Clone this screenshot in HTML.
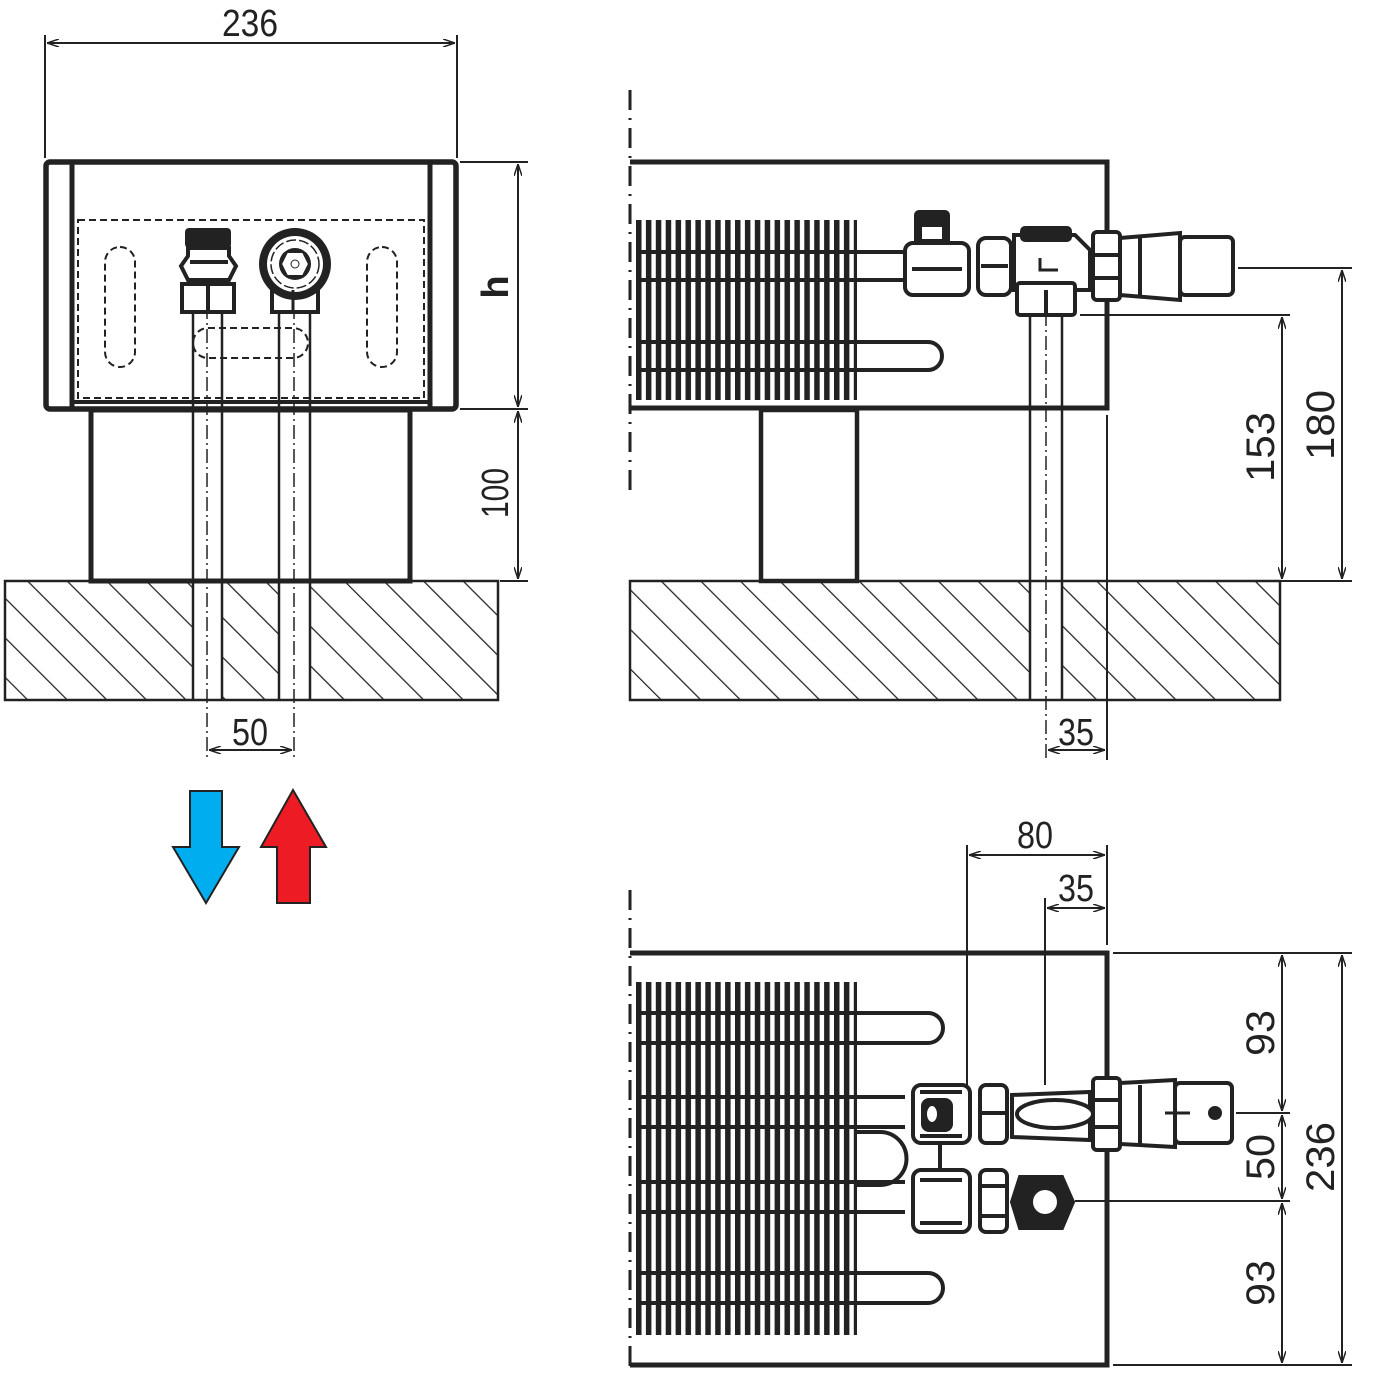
<!DOCTYPE html>
<html><head><meta charset="utf-8"><style>html,body{margin:0;padding:0;background:#fff}svg{display:block}</style></head>
<body>
<svg width="1387" height="1378" viewBox="0 0 1387 1378" xmlns="http://www.w3.org/2000/svg" font-family="'Liberation Sans Narrow','Liberation Sans',sans-serif" fill="none" stroke="#222">
<defs>
<pattern id="hatch" patternUnits="userSpaceOnUse" width="28" height="28" patternTransform="rotate(-45)">
<line x1="0" y1="0" x2="0" y2="28" stroke="#222" stroke-width="2.5"/>
</pattern>
<pattern id="fins" patternUnits="userSpaceOnUse" x="636" y="0" width="9.9" height="20">
<rect x="0" y="0" width="5.5" height="20" fill="#222" stroke="none"/>
</pattern>
<marker id="ar" viewBox="0 0 12 8" refX="12" refY="4" markerWidth="12" markerHeight="8" orient="auto-start-reverse" markerUnits="userSpaceOnUse">
<path d="M0,0 L12,4 L0,8" fill="none" stroke="#222" stroke-width="1.5"/>
</marker>
</defs>

<!-- ========== LEFT VIEW ========== -->
<g stroke-width="2">
<line x1="45" y1="35" x2="45" y2="158"/>
<line x1="457" y1="35" x2="457" y2="158"/>
<line x1="47" y1="43" x2="455" y2="43" marker-start="url(#ar)" marker-end="url(#ar)"/>
</g>
<text x="250" y="36" font-size="38" fill="#222" stroke="none" text-anchor="middle" textLength="56" lengthAdjust="spacingAndGlyphs">236</text>

<rect x="5" y="581" width="493" height="119" fill="url(#hatch)" stroke="none"/>
<rect x="192" y="581" width="30" height="119" fill="#fff" stroke="none"/>
<rect x="278" y="581" width="32" height="119" fill="#fff" stroke="none"/>
<rect x="5" y="581" width="493" height="119" stroke-width="2.5"/>

<rect x="91" y="410" width="319" height="171" stroke-width="5" fill="#fff"/>

<rect x="46" y="162" width="410" height="247" rx="4" stroke-width="5.5" fill="#fff"/>
<line x1="72" y1="162" x2="72" y2="409" stroke-width="5"/>
<line x1="430" y1="162" x2="430" y2="409" stroke-width="5"/>
<line x1="72" y1="402" x2="430" y2="402" stroke-width="4"/>
<rect x="78" y="220" width="346" height="178" stroke-width="2" stroke-dasharray="7,4"/>
<rect x="105" y="247" width="30" height="120" rx="15" stroke-width="2" stroke-dasharray="7,4"/>
<rect x="367" y="247" width="30" height="120" rx="15" stroke-width="2" stroke-dasharray="7,4"/>
<rect x="193" y="328" width="115" height="30" rx="15" stroke-width="2" stroke-dasharray="7,4"/>

<g stroke-width="2.5">
<line x1="193" y1="305" x2="193" y2="700"/><line x1="222" y1="305" x2="222" y2="700"/>
<line x1="279" y1="305" x2="279" y2="700"/><line x1="310" y1="305" x2="310" y2="700"/>
</g>
<g stroke-width="1.5" stroke-dasharray="14,4,2,4">
<line x1="207" y1="305" x2="207" y2="760"/>
<line x1="294" y1="305" x2="294" y2="760"/>
</g>
<rect x="185" y="228" width="46" height="20" rx="4" fill="#222" stroke="none"/>
<path d="M188,248 L229,248 L229,256 L236,266 L229,280 L188,280 L181,266 L188,256 Z" fill="#fff" stroke-width="4"/>
<line x1="190" y1="262" x2="228" y2="262" stroke-width="4"/>
<rect x="182" y="284" width="52" height="28" fill="#fff" stroke-width="4"/>
<line x1="208" y1="284" x2="208" y2="312" stroke-width="4"/>
<rect x="272" y="290" width="46" height="22" fill="#fff" stroke-width="4"/>
<circle cx="295" cy="264" r="36" fill="#222" stroke="none"/>
<circle cx="295" cy="264" r="28" fill="#fff" stroke="none"/>
<circle cx="295" cy="264" r="24" stroke-width="1.5" stroke-dasharray="10,3"/>
<circle cx="295" cy="264" r="16" fill="#222" stroke="none"/>
<path d="M287,252 L303,252 L309,264 L303,276 L287,276 L281,264 Z" fill="#fff" stroke="#222" stroke-width="2"/>
<circle cx="295" cy="264" r="4" stroke-width="1"/>
<line x1="293" y1="290" x2="293" y2="312" stroke-width="3"/>

<g stroke-width="2">
<line x1="460" y1="162" x2="528" y2="162"/>
<line x1="460" y1="409" x2="528" y2="409"/>
<line x1="500" y1="581" x2="528" y2="581"/>
<line x1="518" y1="164" x2="518" y2="407" marker-start="url(#ar)" marker-end="url(#ar)"/>
<line x1="518" y1="411" x2="518" y2="579" marker-start="url(#ar)" marker-end="url(#ar)"/>
</g>
<text transform="translate(508,287) rotate(-90)" font-size="38" font-weight="bold" fill="#222" stroke="none" text-anchor="middle" font-family="'Liberation Sans',sans-serif">h</text>
<text transform="translate(508,493) rotate(-90)" font-size="38" fill="#222" stroke="none" text-anchor="middle" textLength="50" lengthAdjust="spacingAndGlyphs">100</text>

<line x1="209" y1="750" x2="292" y2="750" stroke-width="2" marker-start="url(#ar)" marker-end="url(#ar)"/>
<text x="250" y="745" font-size="38" fill="#222" stroke="none" text-anchor="middle" textLength="36" lengthAdjust="spacingAndGlyphs">50</text>

<path d="M190,791 L222,791 L222,847 L239,847 L206,903 L173,847 L190,847 Z" fill="#00aeef" stroke="#222" stroke-width="2"/>
<path d="M293,790 L326,847 L310,847 L310,903 L277,903 L277,847 L261,847 Z" fill="#ed1c24" stroke="#222" stroke-width="2"/>

<!-- ========== TOP-RIGHT VIEW ========== -->
<line x1="630" y1="90" x2="630" y2="492" stroke-width="3" stroke-dasharray="20,8,2,8"/>
<rect x="630" y="581" width="650" height="119" fill="url(#hatch)" stroke="none"/>
<rect x="1030" y="581" width="32" height="119" fill="#fff" stroke="none"/>
<rect x="630" y="581" width="650" height="119" stroke-width="2.5"/>
<rect x="761" y="410" width="96" height="171" stroke-width="4.5" fill="#fff"/>
<path d="M630,162 L1107,162 L1107,408 L630,408" stroke-width="5"/>
<line x1="1107" y1="415" x2="1107" y2="760" stroke-width="2"/>
<rect x="636" y="220" width="221" height="180" fill="url(#fins)" stroke="none"/>
<g stroke-width="4">
<line x1="636" y1="252" x2="857" y2="252"/><line x1="636" y1="280" x2="857" y2="280"/>
<line x1="636" y1="342" x2="857" y2="342"/><line x1="636" y1="370" x2="857" y2="370"/>
</g>
<path d="M857,252 L905,252 M857,280 L905,280" stroke-width="4"/>
<path d="M857,342 L928,342 A14,14 0 0 1 928,370 L857,370" stroke-width="4"/>
<g stroke-width="2.5"><line x1="1030" y1="312" x2="1030" y2="700"/><line x1="1062" y1="312" x2="1062" y2="700"/></g>
<line x1="1046" y1="312" x2="1046" y2="760" stroke-width="1.5" stroke-dasharray="14,4,2,4"/>
<g stroke-width="4" fill="#fff">
<rect x="916" y="212" width="32" height="32" rx="3" fill="#222"/>
<rect x="921" y="226" width="22" height="14" fill="#fff" stroke-width="2"/>
<rect x="905" y="243" width="64" height="52" rx="8"/>
<line x1="912" y1="269" x2="962" y2="269"/>
<rect x="978" y="238" width="33" height="57" rx="8"/>
<line x1="981" y1="266" x2="1008" y2="266"/>
<path d="M1014,235 L1075,235 L1090,250 L1090,290 L1014,290 Z"/>
<rect x="1022" y="228" width="48" height="12" rx="3" fill="#222"/>
<rect x="1017" y="283" width="58" height="32" rx="3"/>
<line x1="1046" y1="290" x2="1046" y2="315"/>
<path d="M1040,258 L1040,270 L1058,270" stroke-width="3"/>
<rect x="1093" y="232" width="27" height="68" rx="4"/>
<line x1="1093" y1="255" x2="1120" y2="255"/><line x1="1093" y1="278" x2="1120" y2="278"/>
<path d="M1120,238 L1180,233 L1180,300 L1120,295 Z"/>
<line x1="1140" y1="238" x2="1140" y2="296"/>
<rect x="1180" y="237" width="53" height="58" rx="5"/>
</g>
<g stroke-width="2">
<line x1="1238" y1="268" x2="1352" y2="268"/>
<line x1="1080" y1="315" x2="1290" y2="315"/>
<line x1="1110" y1="581" x2="1352" y2="581"/>
<line x1="1282" y1="317" x2="1282" y2="579" marker-start="url(#ar)" marker-end="url(#ar)"/>
<line x1="1342" y1="270" x2="1342" y2="579" marker-start="url(#ar)" marker-end="url(#ar)"/>
<line x1="1048" y1="750" x2="1105" y2="750" marker-start="url(#ar)" marker-end="url(#ar)"/>
</g>
<text transform="translate(1274,447) rotate(-90)" font-size="40" fill="#222" stroke="none" text-anchor="middle" textLength="70" lengthAdjust="spacingAndGlyphs">153</text>
<text transform="translate(1334,425) rotate(-90)" font-size="40" fill="#222" stroke="none" text-anchor="middle" textLength="70" lengthAdjust="spacingAndGlyphs">180</text>
<text x="1076" y="745" font-size="38" fill="#222" stroke="none" text-anchor="middle" textLength="36" lengthAdjust="spacingAndGlyphs">35</text>

<!-- ========== BOTTOM VIEW ========== -->
<line x1="630" y1="890" x2="630" y2="1372" stroke-width="3" stroke-dasharray="20,8,2,8"/>
<path d="M630,953 L1107,953 L1107,1365 L630,1365" stroke-width="5"/>
<rect x="636" y="982" width="221" height="353" fill="url(#fins)" stroke="none"/>
<g stroke-width="4">
<line x1="636" y1="1013" x2="857" y2="1013"/><line x1="636" y1="1043" x2="857" y2="1043"/>
<line x1="636" y1="1097" x2="857" y2="1097"/><line x1="636" y1="1127" x2="857" y2="1127"/>
<line x1="636" y1="1182" x2="857" y2="1182"/><line x1="636" y1="1212" x2="857" y2="1212"/>
<line x1="636" y1="1273" x2="857" y2="1273"/><line x1="636" y1="1303" x2="857" y2="1303"/>
</g>
<path d="M857,1013 L928,1013 A15,15 0 0 1 928,1043 L857,1043" stroke-width="4"/>
<path d="M857,1273 L928,1273 A15,15 0 0 1 928,1303 L857,1303" stroke-width="4"/>
<path d="M857,1097 L905,1097 M857,1127 L905,1127 M857,1182 L905,1182 M857,1212 L905,1212" stroke-width="4"/>
<path d="M857,1132 L880,1132 A26,26 0 0 1 880,1185 L857,1185" stroke-width="4"/>
<line x1="940" y1="1143" x2="940" y2="1172" stroke-width="4"/>
<g stroke-width="4" fill="#fff">
<rect x="913" y="1085" width="57" height="58" rx="8"/>
<line x1="920" y1="1092" x2="962" y2="1092"/><line x1="920" y1="1136" x2="962" y2="1136"/>
<rect x="923" y="1100" width="28" height="30" rx="6" fill="#222"/>
<ellipse cx="932" cy="1114" rx="6" ry="9" fill="#fff" stroke-width="2"/>
<rect x="980" y="1085" width="27" height="58" rx="6"/>
<line x1="982" y1="1113" x2="1005" y2="1113"/>
<path d="M1012,1095 L1090,1092 L1090,1140 L1012,1137 Z"/>
<ellipse cx="1055" cy="1114" rx="38" ry="14"/>
<rect x="1093" y="1078" width="27" height="72" rx="4"/>
<line x1="1093" y1="1100" x2="1120" y2="1100"/><line x1="1093" y1="1127" x2="1120" y2="1127"/>
<path d="M1120,1083 L1175,1080 L1175,1147 L1120,1144 Z"/>
<rect x="1175" y="1083" width="57" height="60" rx="5"/>
<line x1="1140" y1="1085" x2="1140" y2="1144"/>
<line x1="1165" y1="1113" x2="1190" y2="1113" stroke-width="3"/>
<circle cx="1215" cy="1113" r="5" fill="#222"/>
<rect x="913" y="1170" width="57" height="62" rx="8"/>
<line x1="920" y1="1180" x2="962" y2="1180"/><line x1="920" y1="1223" x2="962" y2="1223"/>
<rect x="980" y="1170" width="27" height="62" rx="6"/>
<line x1="982" y1="1186" x2="1005" y2="1186"/><line x1="982" y1="1216" x2="1005" y2="1216"/>
<path d="M1020,1177 L1062,1177 L1073,1202 L1062,1228 L1020,1228 L1012,1202 Z" fill="#222"/>
<circle cx="1045" cy="1202" r="12" fill="#fff" stroke="none"/>
</g>
<g stroke-width="2">
<line x1="967" y1="845" x2="967" y2="1085"/>
<line x1="1045" y1="898" x2="1045" y2="1085"/>
<line x1="1107" y1="845" x2="1107" y2="945"/>
<line x1="969" y1="855" x2="1105" y2="855" marker-start="url(#ar)" marker-end="url(#ar)"/>
<line x1="1047" y1="908" x2="1105" y2="908" marker-start="url(#ar)" marker-end="url(#ar)"/>
<line x1="1113" y1="953" x2="1352" y2="953"/>
<line x1="1236" y1="1113" x2="1290" y2="1113"/>
<line x1="1075" y1="1201" x2="1290" y2="1201"/>
<line x1="1113" y1="1365" x2="1352" y2="1365"/>
<line x1="1282" y1="955" x2="1282" y2="1111" marker-start="url(#ar)" marker-end="url(#ar)"/>
<line x1="1282" y1="1115" x2="1282" y2="1199" marker-start="url(#ar)" marker-end="url(#ar)"/>
<line x1="1282" y1="1203" x2="1282" y2="1363" marker-start="url(#ar)" marker-end="url(#ar)"/>
<line x1="1342" y1="955" x2="1342" y2="1363" marker-start="url(#ar)" marker-end="url(#ar)"/>
</g>
<text x="1035" y="848" font-size="38" fill="#222" stroke="none" text-anchor="middle" textLength="36" lengthAdjust="spacingAndGlyphs">80</text>
<text x="1076" y="901" font-size="38" fill="#222" stroke="none" text-anchor="middle" textLength="36" lengthAdjust="spacingAndGlyphs">35</text>
<text transform="translate(1274,1033) rotate(-90)" font-size="40" fill="#222" stroke="none" text-anchor="middle" textLength="46" lengthAdjust="spacingAndGlyphs">93</text>
<text transform="translate(1274,1157) rotate(-90)" font-size="40" fill="#222" stroke="none" text-anchor="middle" textLength="46" lengthAdjust="spacingAndGlyphs">50</text>
<text transform="translate(1274,1283) rotate(-90)" font-size="40" fill="#222" stroke="none" text-anchor="middle" textLength="46" lengthAdjust="spacingAndGlyphs">93</text>
<text transform="translate(1334,1157) rotate(-90)" font-size="40" fill="#222" stroke="none" text-anchor="middle" textLength="70" lengthAdjust="spacingAndGlyphs">236</text>
</svg>
</body></html>
